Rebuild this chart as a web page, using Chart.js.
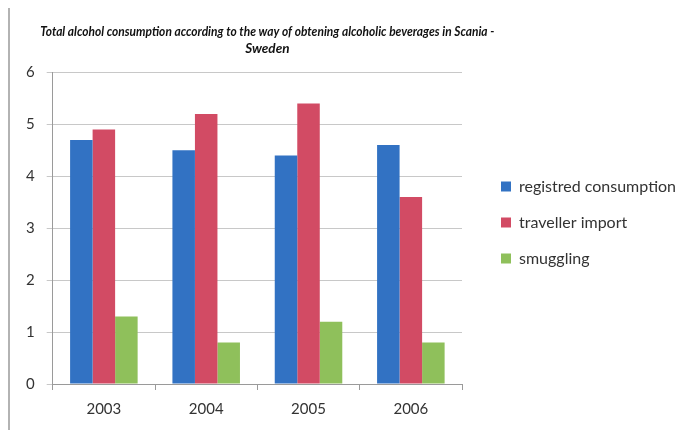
<!DOCTYPE html>
<html>
<head>
<meta charset="utf-8">
<script src="https://cdn.jsdelivr.net/npm/chart.js@4/dist/chart.umd.min.js"></script>
<style>
  html, body { margin: 0; padding: 0; background: #fff; }
  #wrap { width: 700px; height: 430px; }
</style>
</head>
<body>
<div id="wrap"><canvas id="myChart" width="700" height="430"></canvas></div>
<script>
// years on the x axis
const years = ['2003', '2004', '2005', '2006'];
// values
const registred = [4.7, 4.5, 4.4, 4.6];
const traveller = [4.9, 5.2, 5.4, 3.6];
const smuggling = [1.3, 0.8, 1.2, 0.8];
const yTicks = [0, 1, 2, 3, 4, 5, 6];

const titleLines = [
  'Total alcohol consumption according to the way of obtening alcoholic beverages in Scania -',
  'Sweden'
];

// the title in the original is wider than the plot and sits a bit right of its centre
// (the narrow box also squeezes the long line, like the condensed original font),
// and the scan shows a grey page edge on the left
const pagePlugin = {
  id: 'pageBits',
  afterLayout(chart) {
    const t = chart.titleBlock;
    if (t) {
      const cx = (chart.chartArea.left + chart.chartArea.right) / 2 + 10;
      t.left = cx - 227;
      t.right = cx + 227;
      t.width = 454;
    }
  },
  beforeDraw(chart) {
    const ctx = chart.ctx;
    ctx.save();
    ctx.strokeStyle = '#9a9a9a';
    ctx.lineWidth = 1.5;
    ctx.beginPath();
    ctx.moveTo(9, 8);
    ctx.lineTo(9, 430);
    ctx.stroke();
    ctx.restore();
  }
};

function drawChart() {
  var ctx = document.getElementById('myChart').getContext('2d');
  new Chart(ctx, {
    type: 'bar',
    data: {
      labels: years,
      datasets: [
        { label: 'registred consumption', data: registred, backgroundColor: '#3272c3' },
        { label: 'traveller import', data: traveller, backgroundColor: '#d24b64' },
        { label: 'smuggling', data: smuggling, backgroundColor: '#8fc05b' }
      ]
    },
    options: {
      responsive: false,
      animation: false,
      layout: { padding: { left: 14, right: 14, top: 17, bottom: 2 } },
      datasets: {
        bar: { categoryPercentage: 0.66, barPercentage: 1.0 }
      },
      plugins: {
        title: {
          display: true,
          text: titleLines,
          fullSize: false,
          color: '#111',
          font: { family: 'Lato', size: 13.5, weight: 'bold', style: 'italic', lineHeight: 1.2 },
          padding: { top: 7, bottom: 16 }
        },
        legend: {
          position: 'right',
          align: 'center',
          maxWidth: 220,
          labels: {
            boxWidth: 10,
            boxHeight: 10,
            padding: 20,
            color: '#333',
            font: { family: 'Lato', size: 16 }
          }
        },
        tooltip: { enabled: false }
      },
      scales: {
        x: {
          grid: {
            display: true,
            drawOnChartArea: false,
            drawTicks: true,
            tickLength: 6,
            offset: true,
            color: '#9a9a9a'
          },
          border: { display: true, color: '#9a9a9a' },
          ticks: { color: '#333', padding: 10, font: { family: 'Lato', size: 15 } }
        },
        y: {
          min: 0,
          max: 6,
          afterBuildTicks(scale) {
            scale.ticks = yTicks.map(v => ({ value: v }));
          },
          grid: { color: '#c8c8c8', tickLength: 6 },
          border: { display: true, color: '#9a9a9a' },
          ticks: { color: '#333', padding: 12, font: { family: 'Lato', size: 15 } }
        },
        gap: {
          type: 'linear',
          position: 'right',
          display: true,
          grid: { display: false },
          border: { display: false },
          ticks: { display: false },
          afterFit(scale) { scale.width = 19; }
        }
      }
    },
    plugins: [pagePlugin]
  });
}

Promise.all([
  document.fonts.load('16px Lato'),
  document.fonts.load('italic bold 13px Lato')
]).then(drawChart, drawChart);
</script>
</body>
</html>
